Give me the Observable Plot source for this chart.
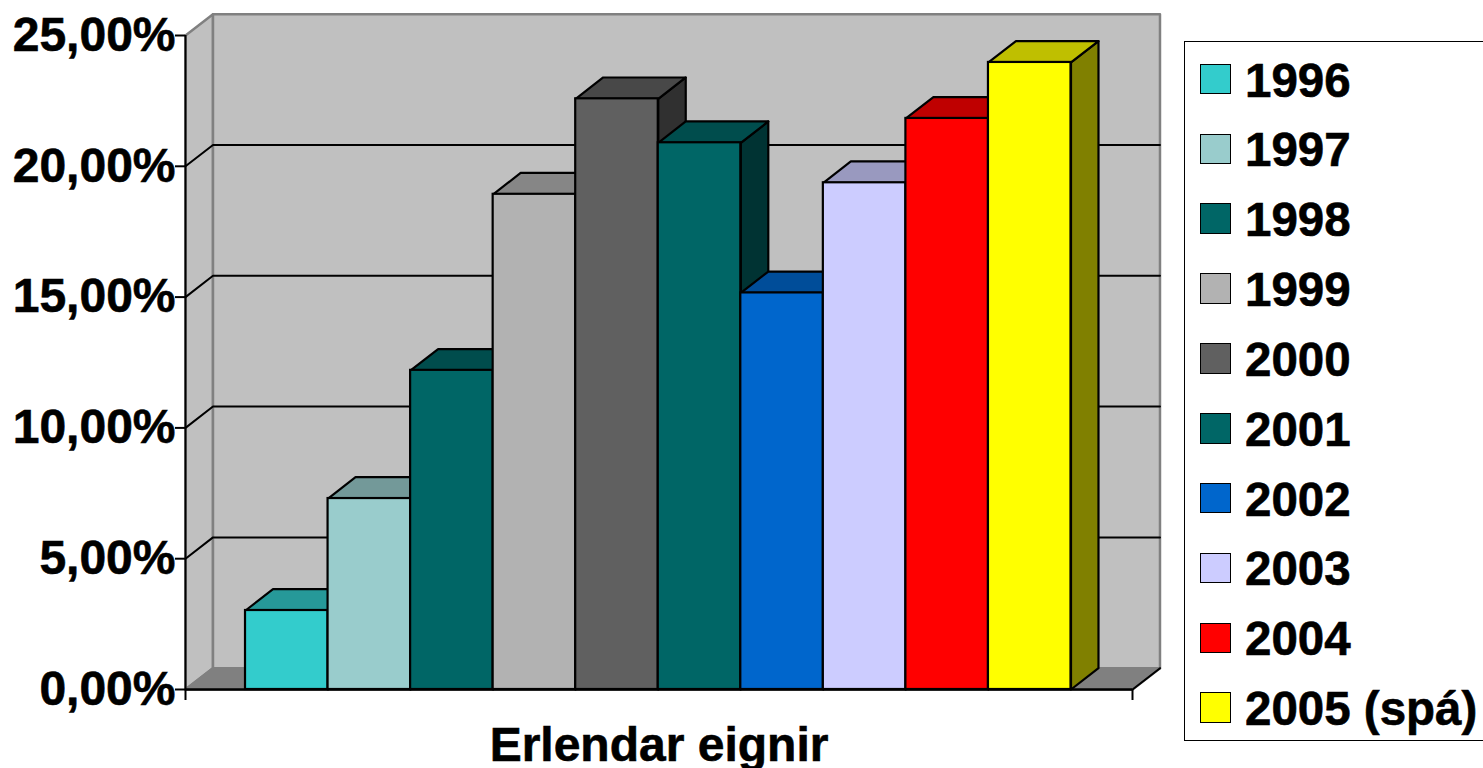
<!DOCTYPE html>
<html>
<head>
<meta charset="utf-8">
<script src="https://cdn.jsdelivr.net/npm/d3@7"></script>
<script src="https://cdn.jsdelivr.net/npm/@observablehq/plot@0.6"></script>
<style>
html,body{margin:0;padding:0;background:#fff;overflow:hidden;width:1483px;height:768px}
#chart{position:absolute;left:0;top:0}
#chart svg text{stroke:#000;stroke-width:.6px}
#legend{position:absolute;left:1184px;top:41px;width:340px;height:698px;border:1.5px solid #000;background:#fff;
  font:bold 47.5px "Liberation Sans",Arial,sans-serif;color:#000;-webkit-text-stroke:.6px #000}
.row{position:absolute;left:15px;height:70px;display:flex;align-items:center;white-space:nowrap}
.sw{width:28.5px;height:28.5px;border:1.8px solid #000;margin-right:14.5px;flex:none}
.lb{position:relative;top:1px}
</style>
</head>
<body>
<div id="chart"></div>
<div id="legend"></div>
<script>
const years = ["1996","1997","1998","1999","2000","2001","2002","2003","2004","2005 (spá)"];
const values = [3.02, 7.3, 12.2, 18.93, 22.58, 20.9, 15.16, 19.37, 21.83, 23.97];
const colors = ["#33cccc","#99cccc","#006666","#b2b2b2","#606060","#006666","#0066cc","#ccccff","#ff0000","#ffff00"];
const category = "Erlendar eignir";
const yTicks = [0, 5, 10, 15, 20, 25];
const gridLevels = [5, 10, 15, 20];

// depth of the 3D box, in data units
const depthX = 0.333, depthY = 0.815;
const xMin = -0.727, xMax = 10.745, yMax = 25;
const barW = 1;

const shade = (c, k) => { const r = d3.rgb(c); return d3.rgb(r.r * k, r.g * k, r.b * k).formatHex(); };
const poly = (id, fill, pts) => [...pts, pts[0]].map(([x, y]) => ({id, fill, x, y}));

const walls = [
  ...poly("side", "#c0c0c0", [[xMin, 0], [xMin + depthX, depthY], [xMin + depthX, yMax + depthY], [xMin, yMax]]),
  ...poly("back", "#c0c0c0", [[xMin + depthX, depthY], [xMax + depthX, depthY], [xMax + depthX, yMax + depthY], [xMin + depthX, yMax + depthY]]),
  ...poly("floor", "#808080", [[xMin, 0], [xMax, 0], [xMax + depthX, depthY], [xMin + depthX, depthY]])
];
const grid = gridLevels.flatMap(v => [
  {id: v, x: xMin, y: v}, {id: v, x: xMin + depthX, y: v + depthY}, {id: v, x: xMax + depthX, y: v + depthY}
]);
const floorEdge = [{x: xMax, y: 0}, {x: xMax + depthX, y: depthY}];
const faces = values.flatMap((v, i) => [
  ...poly(`s${i}`, shade(colors[i], 0.5), [[i + barW, 0], [i + barW + depthX, depthY], [i + barW + depthX, v + depthY], [i + barW, v]]),
  ...poly(`t${i}`, shade(colors[i], 0.75), [[i, v], [i + barW, v], [i + barW + depthX, v + depthY], [i + depthX, v + depthY]])
]);
const fronts = values.map((v, i) => ({x1: i, x2: i + barW, y: v, fill: colors[i]}));

const plot = Plot.plot({
  width: 1483, height: 768,
  marginLeft: 185, marginRight: 351, marginTop: 35, marginBottom: 79,
  x: {domain: [xMin, xMax], axis: null},
  y: {domain: [0, yMax], axis: null},
  color: {type: "identity"},
  style: {fontFamily: '"Liberation Sans",Arial,sans-serif', fontSize: "48px", fontWeight: "bold", color: "#000", background: "transparent", overflow: "visible"},
  marks: [
    Plot.line(walls, {x: "x", y: "y", z: "id", fill: "fill", stroke: "#808080", strokeWidth: 2.5, curve: "linear"}),
    Plot.line(grid, {x: "x", y: "y", z: "id", stroke: "#000", strokeWidth: 2, curve: "linear"}),
    Plot.line(floorEdge, {x: "x", y: "y", stroke: "#000", strokeWidth: 2, curve: "linear"}),
    Plot.line(faces, {x: "x", y: "y", z: "id", fill: "fill", stroke: "#000", strokeWidth: 2.2, curve: "linear"}),
    Plot.rect(fronts, {x1: "x1", x2: "x2", y1: 0, y2: "y", fill: "fill", stroke: "#000", strokeWidth: 2.2}),
    Plot.ruleX([xMin], {y1: -0.42, y2: yMax, stroke: "#000", strokeWidth: 2}),
    Plot.ruleX([xMax], {y1: -0.42, y2: 0, stroke: "#000", strokeWidth: 2}),
    Plot.ruleY([0], {x1: xMin, x2: xMax, stroke: "#000", strokeWidth: 2.5}),
    Plot.axisY({ticks: yTicks, tickSize: 10, tickPadding: 0, strokeWidth: 2, stroke: "#000", label: null,
      tickFormat: d => d.toFixed(2).replace(".", ",") + "%"}),
    Plot.text([category], {x: (xMin + xMax) / 2, y: 0, dy: 56, text: d => d, fill: "#000"})
  ]
});
document.getElementById("chart").append(plot);

const legend = document.getElementById("legend");
years.forEach((y, i) => {
  const row = document.createElement("div");
  row.className = "row";
  row.style.top = (2 + i * 69.85) + "px";
  const sw = document.createElement("span");
  sw.className = "sw";
  sw.style.background = colors[i];
  const t = document.createElement("span");
  t.className = "lb";
  t.textContent = y;
  row.append(sw, t);
  legend.append(row);
});
</script>
</body>
</html>
